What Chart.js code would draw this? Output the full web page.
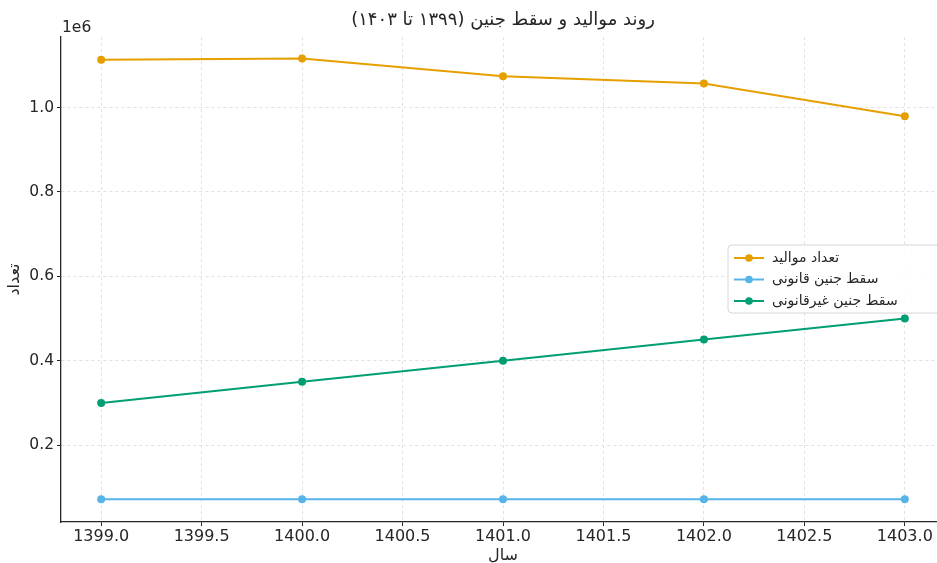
<!DOCTYPE html>
<html>
<head>
<meta charset="utf-8">
<script src="https://cdn.jsdelivr.net/npm/chart.js@4.4.0/dist/chart.umd.min.js"></script>
<style>
  html, body { margin: 0; padding: 0; background: #fff; overflow: hidden; }
  #wrap { width: 950px; height: 563px; }
</style>
</head>
<body>
<div id="wrap"><canvas id="trendChart" width="950" height="563"></canvas></div>
<script>
// data
const years = [1399, 1400, 1401, 1402, 1403];
const births = [1113000, 1116000, 1074000, 1057000, 979000];
const legalAbortions = [72000, 72000, 72000, 72000, 72000];
const illegalAbortions = [300000, 350000, 400000, 450000, 500000];

const seriesLabels = ['تعداد موالید', 'سقط جنین قانونی', 'سقط جنین غیرقانونی'];
const seriesColors = ['#E69F00', '#56B4E9', '#009E73'];

const xTicks = [1399.0, 1399.5, 1400.0, 1400.5, 1401.0, 1401.5, 1402.0, 1402.5, 1403.0];
const yTicks = [200000, 400000, 600000, 800000, 1000000];

const chartTitle = 'روند موالید و سقط جنین (۱۳۹۹ تا ۱۴۰۳)';
const xTitle = 'سال';
const yTitle = 'تعداد';

const FONT = '"DejaVu Sans", sans-serif';
const INK = '#262626';

function toPoints(vals) {
    return years.map((y, i) => ({ x: y, y: vals[i] }));
}

const allSeries = [births, legalAbortions, illegalAbortions];

// title, axis titles, offset text and legend drawn by hand
const decorPlugin = {
    id: 'decor',
    afterDraw(chart) {
        const ctx = chart.ctx;
        const area = chart.chartArea;
        ctx.save();
        ctx.fillStyle = INK;

        // title
        ctx.font = '18px ' + FONT;
        ctx.textAlign = 'center';
        ctx.textBaseline = 'middle';
        ctx.fillText(chartTitle, (area.left + area.right) / 2, 20);

        // offset text
        ctx.font = '15.5px ' + FONT;
        ctx.textAlign = 'left';
        ctx.fillText('1e6', area.left + 1, 28);

        // x title
        ctx.font = '16px ' + FONT;
        ctx.textAlign = 'center';
        ctx.fillText(xTitle, (area.left + area.right) / 2, 556);

        // y title
        ctx.save();
        ctx.translate(15, (area.top + area.bottom) / 2);
        ctx.rotate(-Math.PI / 2);
        ctx.fillText(yTitle, 0, 0);
        ctx.restore();

        // legend
        const bx = 728, by = 245, bw = 216, bh = 68;
        ctx.beginPath();
        ctx.roundRect(bx, by, bw, bh, 4);
        ctx.fillStyle = 'rgba(255,255,255,0.85)';
        ctx.fill();
        ctx.strokeStyle = '#d6d6d6';
        ctx.lineWidth = 1;
        ctx.stroke();

        ctx.font = '14px ' + FONT;
        ctx.textAlign = 'left';
        chart.data.datasets.forEach((ds, i) => {
            const ry = 258 + i * 21.5;
            ctx.strokeStyle = ds.borderColor;
            ctx.lineWidth = 2;
            ctx.beginPath();
            ctx.moveTo(734, ry);
            ctx.lineTo(764, ry);
            ctx.stroke();
            ctx.fillStyle = ds.borderColor;
            ctx.beginPath();
            ctx.arc(749, ry, 3.8, 0, Math.PI * 2);
            ctx.fill();
            ctx.fillStyle = INK;
            ctx.fillText(ds.label, 772, ry);
        });
        ctx.restore();
    }
};

const ctx = document.getElementById('trendChart').getContext('2d');
const trendChart = new Chart(ctx, {
    type: 'line',
    data: {
        datasets: allSeries.map((vals, i) => ({
            label: seriesLabels[i],
            data: toPoints(vals),
            borderColor: seriesColors[i],
            backgroundColor: seriesColors[i],
            borderWidth: 2,
            pointRadius: 4,
            pointHoverRadius: 4,
            pointBorderWidth: 0,
            tension: 0
        }))
    },
    options: {
        responsive: false,
        animation: false,
        layout: { padding: { top: 37, right: 5, left: 0, bottom: 0 } },
        plugins: {
            legend: { display: false },
            title: { display: false },
            tooltip: { enabled: false }
        },
        scales: {
            x: {
                type: 'linear',
                min: 1398.8,
                max: 1403.2,
                afterBuildTicks: s => { s.ticks = xTicks.map(v => ({ value: v })); },
                afterFit: s => { s.height = 41; },
                ticks: {
                    callback: v => v.toFixed(1),
                    font: { family: FONT, size: 16 },
                    color: INK,
                    padding: 1,
                    maxRotation: 0,
                    autoSkip: false
                },
                grid: {
                    color: '#e2e2e2',
                    lineWidth: 1,
                    tickLength: 4,
                    tickColor: INK,
                    tickBorderDash: [],
                    tickWidth: 1
                },
                border: { display: true, color: INK, width: 1.3, dash: [3, 3] }
            },
            y: {
                type: 'linear',
                min: 17800,
                max: 1167000,
                afterBuildTicks: s => { s.ticks = yTicks.map(v => ({ value: v })); },
                afterFit: s => { s.width = 61; },
                ticks: {
                    callback: v => (v / 1e6).toFixed(1),
                    font: { family: FONT, size: 15.5 },
                    color: INK,
                    padding: 3
                },
                grid: {
                    color: '#e2e2e2',
                    lineWidth: 1,
                    tickLength: 4,
                    tickColor: INK,
                    tickBorderDash: [],
                    tickWidth: 1
                },
                border: { display: true, color: INK, width: 1.3, dash: [3, 3] }
            }
        }
    },
    plugins: [decorPlugin]
});
</script>
</body>
</html>
